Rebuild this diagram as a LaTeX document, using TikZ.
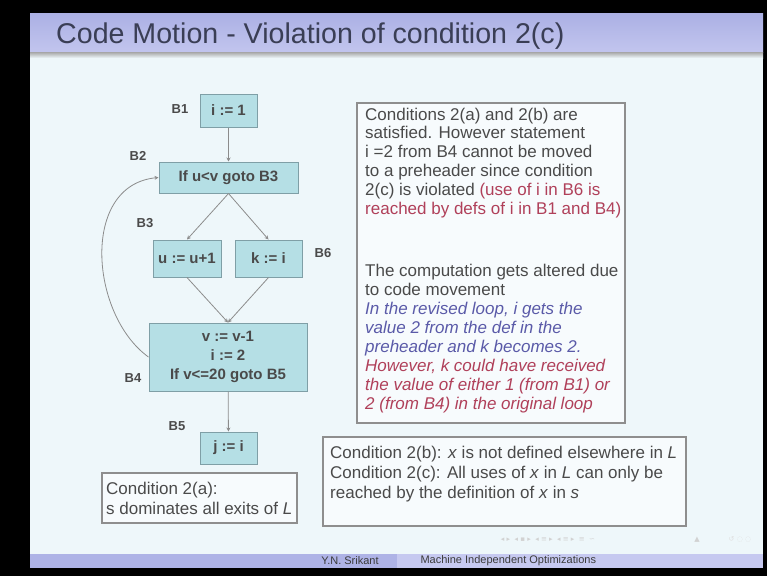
\documentclass[tikz,border=0pt]{standalone}
\usepackage{fontspec}
\setmainfont{Liberation Sans}
\newfontfamily\navfont{DejaVu Sans}
\usetikzlibrary{arrows.meta}

\definecolor{slidebg}{HTML}{EEF7FA}
\definecolor{titlebar}{HTML}{ABB0E4}
\definecolor{titlebarlo}{HTML}{C2C5EE}
\definecolor{titletext}{HTML}{3A3E55}
\definecolor{footdark}{HTML}{AEB3E6}
\definecolor{footlight}{HTML}{C6C9F0}
\definecolor{blockfill}{HTML}{B5DFE5}
\definecolor{blockline}{HTML}{7F9FA6}
\definecolor{edgegray}{HTML}{8C8C8C}
\definecolor{bodytext}{HTML}{4A4A4A}
\definecolor{notered}{HTML}{B0405A}
\definecolor{noteblue}{HTML}{5A5AA8}
\definecolor{boxline}{HTML}{8E8E8E}

\begin{document}
\begin{tikzpicture}[x=1pt, y=-1pt,
  block/.style={draw=blockline, fill=blockfill, line width=1pt, inner sep=0pt,
    font=\fontsize{15}{19}\selectfont\bfseries, text=bodytext, align=center},
  blocklabel/.style={font=\fontsize{13}{15}\selectfont\bfseries, text=bodytext},
  flow/.style={draw=edgegray, line width=0.8pt, -{Stealth[length=4pt,width=4pt]}},
  notebox/.style={draw=boxline, line width=1.2pt, fill=white!55!slidebg},
  % anchored at the baseline of the last line
  notetext/.style={font=\fontsize{17}{18.8}\selectfont, text=bodytext, align=left,
    inner sep=0pt, anchor=base west},
  footnote/.style={font=\fontsize{11}{12}\selectfont, text=bodytext!80!black}]

\useasboundingbox (0,0) rectangle (767,576);

% --- Frame and slide ---
\fill[black] (0,0) rectangle (767,576);
\fill[slidebg] (30,13) rectangle (763,568);
\shade[top color=titlebar, bottom color=titlebarlo] (30,13) rectangle (763,52);
\shade[top color=gray!70, bottom color=slidebg] (30,52) rectangle (763,58);
\node[anchor=base west, font=\fontsize{28.6}{30}\selectfont, text=titletext, inner sep=0pt]
  (title) at (56,43) {Code Motion - Violation of condition 2(c)};

% --- Flow graph ---
\node[block, minimum width=57, minimum height=33] (b1) at (228.5,110.5) {i := 1};
\node[block, minimum width=139, minimum height=31] (b2) at (228.5,177.5) {If u<v goto B3};
\node[block, minimum width=68, minimum height=37] (b3) at (187,258.5) {u := u+1};
\node[block, minimum width=67, minimum height=37] (b6) at (268.5,258.5) {k := i};
\node[block, minimum width=158, minimum height=68] (b4) at (228,357) {v := v-1\\ i := 2\\ If v<=20 goto B5};
\node[block, minimum width=57, minimum height=32] (b5) at (228.5,448) {j := i};

\node[blocklabel] (lb1) at (180,109) {B1};
\node[blocklabel] (lb2) at (138,156) {B2};
\node[blocklabel] (lb3) at (145,223) {B3};
\node[blocklabel] (lb6) at (323,253) {B6};
\node[blocklabel] (lb4) at (133,378) {B4};
\node[blocklabel] (lb5) at (177,426) {B5};

\draw[flow] (b1) -- (b2);
\draw[flow] (b2.south) -- (b3.north);
\draw[flow] (b2.south) -- (b6.north);
\draw[flow] (b3.south) -- (b4.north);
\draw[flow] (b6.south) -- (b4.north);
\draw[flow] (b4) -- (b5);
\draw[flow] (b4.west) .. controls (90,315) and (80,185) .. (b2.west);

% --- Notes ---
\node[notebox, minimum width=195, minimum height=50] (dombox) at (199.5,498) {};
\node[notetext, font=\fontsize{17}{20}\selectfont] (domtext) at (106,514)
  {Condition 2(a):\\ s dominates all exits of \textit{L}};

\node[notebox, minimum width=268, minimum height=320] (whybox) at (491,263) {};
\node[notetext] (para1) at (365,214) {Conditions 2(a) and 2(b) are\\
  satisfied. However statement\\
  i =2 from B4 cannot be moved\\
  to a preheader since condition\\
  2(c) is violated \textcolor{notered}{(use of i in B6 is}\\
  \textcolor{notered}{reached by defs of i in B1 and B4)}};
\node[notetext, font=\fontsize{17}{19}\selectfont] (para2) at (365,409) {The computation gets altered due\\
  to code movement\\
  {\color{noteblue}\itshape In the revised loop, i gets the}\\
  {\color{noteblue}\itshape value 2 from the def in the}\\
  {\color{noteblue}\itshape preheader and k becomes 2.}\\
  {\color{notered}\itshape However, k could have received}\\
  {\color{notered}\itshape the value of either 1 (from B1) or}\\
  {\color{notered}\itshape 2 (from B4) in the original loop}};

\node[notebox, minimum width=363, minimum height=89] (condbox) at (504.5,481.5) {};
\node[notetext, font=\fontsize{17}{20}\selectfont] (condtext) at (330,498)
  {Condition 2(b): \textit{x} is not defined elsewhere in \textit{L}\\
  Condition 2(c): All uses of \textit{x} in \textit{L} can only be\\
  reached by the definition of \textit{x} in \textit{s}};

% --- Footer ---
\node[text=gray!35, font=\fontsize{7}{8}\selectfont\navfont, inner sep=0pt]
  (navbar) at (548,540) {◂ ▸ \ ◂ ▪ ▸ \ ◂ ≡ ▸ \ ◂ ≡ ▸ \ ≡ \ ∽};
\node[text=gray!35, font=\fontsize{7}{8}\selectfont\navfont, inner sep=0pt]
  (navmark) at (697,540) {▲};
\node[text=gray!25, font=\fontsize{7}{8}\selectfont\navfont, inner sep=0pt]
  (navloop) at (740,540) {↺ ◌ ◌};
\fill[footdark] (30,554) rectangle (397,568);
\fill[footlight] (397,554) rectangle (763,568);
\node[footnote] (author) at (350,561) {Y.N. Srikant};
\node[footnote, anchor=west] (talk) at (417,561) {Machine Independent Optimizations};

\end{tikzpicture}
\end{document}
